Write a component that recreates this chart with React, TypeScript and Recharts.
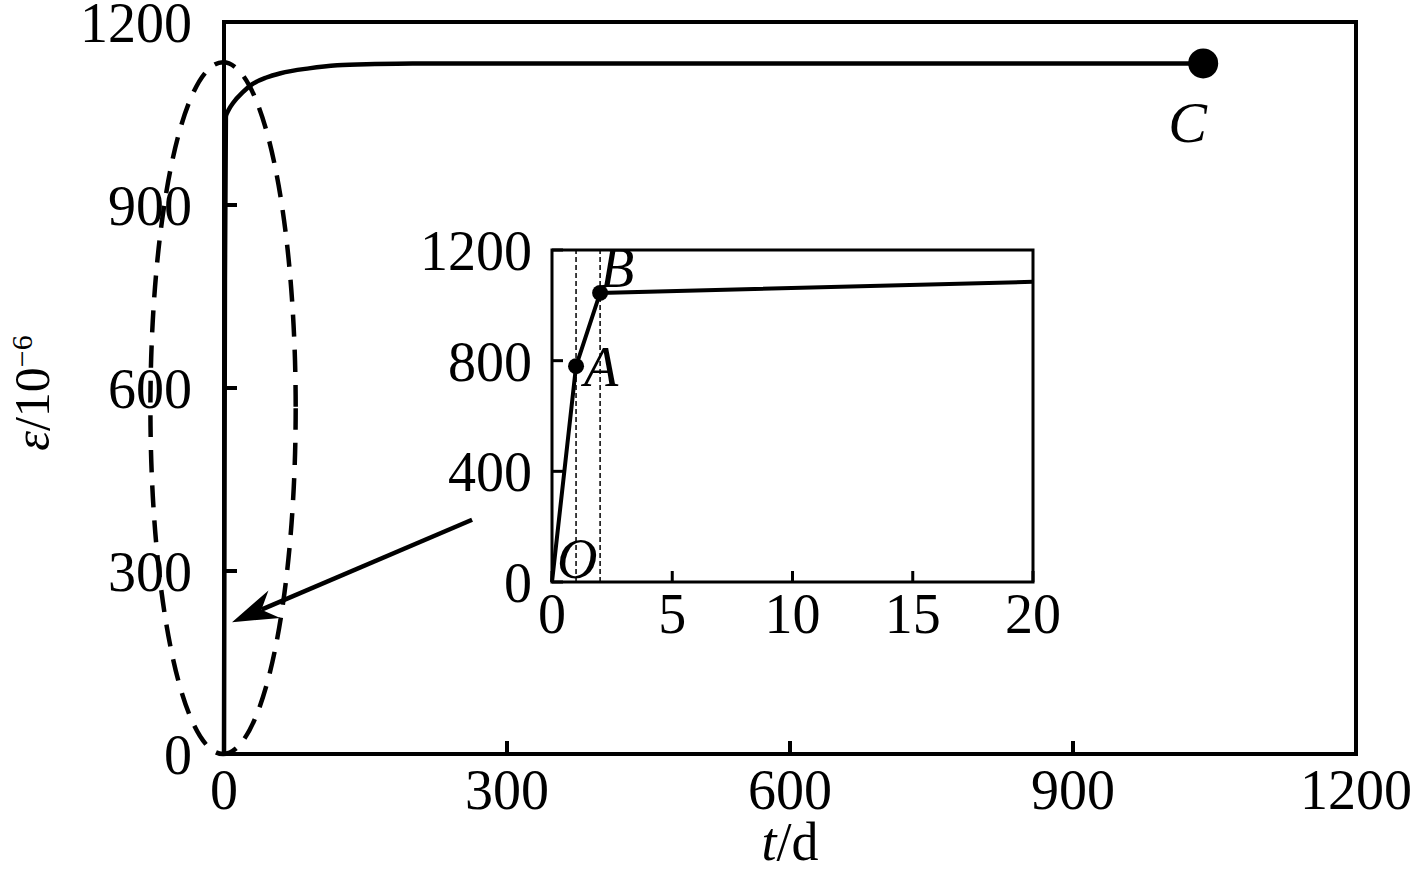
import React from "react";
import {
  LineChart,
  Line,
  XAxis,
  YAxis,
  ReferenceArea,
  ReferenceDot,
  ReferenceLine,
} from "recharts";

// main curve: strain (10^-6) vs time (d)
const mainDays = [0, 1, 2, 5, 10, 20, 30, 45, 60, 90, 120, 160, 200, 400, 700, 1038];
const mainStrain = [0, 780, 1045, 1056, 1068, 1085, 1098, 1109, 1116, 1124, 1129, 1131, 1132, 1132, 1132, 1132];
const mainXTicks = [0, 300, 600, 900, 1200];
const mainYTicks = [0, 300, 600, 900, 1200];

// inset: first 20 days
const insetDays = [0, 1, 2, 20];
const insetStrain = [0, 780, 1045, 1085];
const insetXTicks = [0, 5, 10, 15, 20];
const insetYTicks = [0, 400, 800, 1200];

const pointO = { t: 0, v: 0 };
const pointA = { t: 1, v: 780 };
const pointB = { t: 2, v: 1045 };
const pointC = { t: 1038, v: 1132 };

// annotations (data units)
const ellipseBox = { x1: -78, x2: 76, y1: 0, y2: 1134 };
const arrowSegment = [
  { x: 263, y: 384 },
  { x: 8.5, y: 216 },
];

const mainData = mainDays.map((t, i) => ({ t, v: mainStrain[i] }));
const insetData = insetDays.map((t, i) => ({ t, v: insetStrain[i] }));

const FONT = "'Liberation Serif', 'Times New Roman', serif";
const tickStyle = { fill: "#000", fontSize: 56, fontFamily: FONT };

const letterDot = (text: string, r: number, dx: number, dy: number, size = 56) =>
  (p: any) => (
    <g>
      {r > 0 && <circle cx={p.cx} cy={p.cy} r={r} fill="#000" />}
      <text
        x={p.cx + dx}
        y={p.cy + dy}
        fontSize={size}
        fontStyle="italic"
        fontFamily={FONT}
        fill="#000"
      >
        {text}
      </text>
    </g>
  );

const EllipseShape = (p: any) => (
  <ellipse
    cx={p.x + p.width / 2}
    cy={p.y + p.height / 2}
    rx={Math.abs(p.width) / 2}
    ry={Math.abs(p.height) / 2}
    fill="none"
    stroke="#000"
    strokeWidth={4.5}
    strokeDasharray="22 13"
  />
);

const ArrowShape = (p: any) => {
  const { x1, y1, x2, y2 } = p;
  const ang = Math.atan2(y2 - y1, x2 - x1);
  const ux = Math.cos(ang);
  const uy = Math.sin(ang);
  const px = -uy;
  const py = ux;
  const len = 46;
  const half = 15;
  const notch = 32;
  const bx = x2 - ux * len;
  const by = y2 - uy * len;
  const nx = x2 - ux * notch;
  const ny = y2 - uy * notch;
  return (
    <g>
      <line x1={x1} y1={y1} x2={nx} y2={ny} stroke="#000" strokeWidth={4.5} />
      <polygon
        points={`${x2},${y2} ${bx + px * half},${by + py * half} ${nx},${ny} ${bx - px * half},${by - py * half}`}
        fill="#000"
      />
    </g>
  );
};

const xTitle = (props: any) => {
  const vb = props.viewBox || { x: 224, y: 754, width: 1132, height: 120 };
  return (
    <text
      x={vb.x + vb.width / 2}
      y={vb.y + vb.height - 14}
      textAnchor="middle"
      fontSize={54}
      fontFamily={FONT}
      fill="#000"
    >
      <tspan fontStyle="italic">t</tspan>
      <tspan>/d</tspan>
    </text>
  );
};

const yTitle = (props: any) => {
  const vb = props.viewBox || { x: 0, y: 22, width: 224, height: 732 };
  const x = vb.x + 49;
  const y = vb.y + vb.height / 2 + 5;
  return (
    <text
      x={x}
      y={y}
      transform={`rotate(-90, ${x}, ${y})`}
      textAnchor="middle"
      fontSize={50}
      fontFamily={FONT}
      fill="#000"
    >
      <tspan fontStyle="italic">ε</tspan>
      <tspan>/10</tspan>
      <tspan fontSize={30} dy={-17}>−6</tspan>
    </text>
  );
};

function InsetChart() {
  return (
    <LineChart
      width={720}
      height={460}
      data={insetData}
      margin={{ top: 50, right: 67, bottom: 0, left: 0 }}
    >
      <XAxis
        dataKey="t"
        type="number"
        domain={[0, 20]}
        ticks={insetXTicks}
        interval={0}
        height={78}
        axisLine={false}
        tickSize={-11}
        tickMargin={22}
        tickLine={{ stroke: "#000", strokeWidth: 3 }}
        tick={tickStyle}
      />
      <YAxis
        type="number"
        domain={[0, 1200]}
        ticks={insetYTicks}
        interval={0}
        width={172}
        axisLine={false}
        tickSize={-11}
        tickMargin={31}
        tickLine={{ stroke: "#000", strokeWidth: 3 }}
        tick={tickStyle}
      />
      <ReferenceArea
        x1={0}
        x2={20}
        y1={0}
        y2={1200}
        fill="none"
        stroke="#000"
        strokeWidth={3}
        ifOverflow="visible"
      />
      <ReferenceLine x={pointA.t} stroke="#000" strokeWidth={1.5} strokeDasharray="5 3" />
      <ReferenceLine x={pointB.t} stroke="#000" strokeWidth={1.5} strokeDasharray="5 3" />
      <Line
        dataKey="v"
        type="linear"
        stroke="#000"
        strokeWidth={4}
        dot={false}
        isAnimationActive={false}
      />
      <ReferenceDot x={pointO.t} y={pointO.v} r={0} ifOverflow="visible" shape={letterDot("O", 0, 5, -4)} />
      <ReferenceDot x={pointA.t} y={pointA.v} r={8} ifOverflow="visible" shape={letterDot("A", 8, 8, 20)} />
      <ReferenceDot x={pointB.t} y={pointB.v} r={8} ifOverflow="visible" shape={letterDot("B", 8, 0, -6)} />
    </LineChart>
  );
}

export default function App() {
  return (
    <div
      style={{
        position: "absolute",
        left: 0,
        top: 0,
        width: 1417,
        height: 874,
        background: "#fff",
        fontFamily: FONT,
      }}
    >
      <LineChart
        width={1417}
        height={874}
        data={mainData}
        margin={{ top: 22, right: 61, bottom: 0, left: 0 }}
      >
        <XAxis
          dataKey="t"
          type="number"
          domain={[0, 1200]}
          ticks={mainXTicks}
          interval={0}
          height={120}
          axisLine={false}
          tickSize={-13}
          tickMargin={28}
          tickLine={{ stroke: "#000", strokeWidth: 4 }}
          tick={tickStyle}
          label={{ value: "t/d", content: xTitle }}
        />
        <YAxis
          type="number"
          domain={[0, 1200]}
          ticks={mainYTicks}
          interval={0}
          width={224}
          axisLine={false}
          tickSize={-13}
          tickMargin={45}
          tickLine={{ stroke: "#000", strokeWidth: 4 }}
          tick={tickStyle}
          label={{ value: "ε/10-6", content: yTitle }}
        />
        <ReferenceArea
          x1={0}
          x2={1200}
          y1={0}
          y2={1200}
          fill="none"
          stroke="#000"
          strokeWidth={4}
          ifOverflow="visible"
        />
        <ReferenceArea
          x1={ellipseBox.x1}
          x2={ellipseBox.x2}
          y1={ellipseBox.y1}
          y2={ellipseBox.y2}
          ifOverflow="visible"
          shape={EllipseShape}
        />
        <ReferenceLine segment={arrowSegment} ifOverflow="visible" shape={ArrowShape} />
        <Line
          dataKey="v"
          type="monotone"
          stroke="#000"
          strokeWidth={4.5}
          dot={false}
          isAnimationActive={false}
        />
        <ReferenceDot
          x={pointC.t}
          y={pointC.v}
          r={15}
          ifOverflow="visible"
          shape={letterDot("C", 15, -35, 79, 58)}
        />
      </LineChart>
      <div style={{ position: "absolute", left: 380, top: 200 }}>
        <InsetChart />
      </div>
    </div>
  );
}
